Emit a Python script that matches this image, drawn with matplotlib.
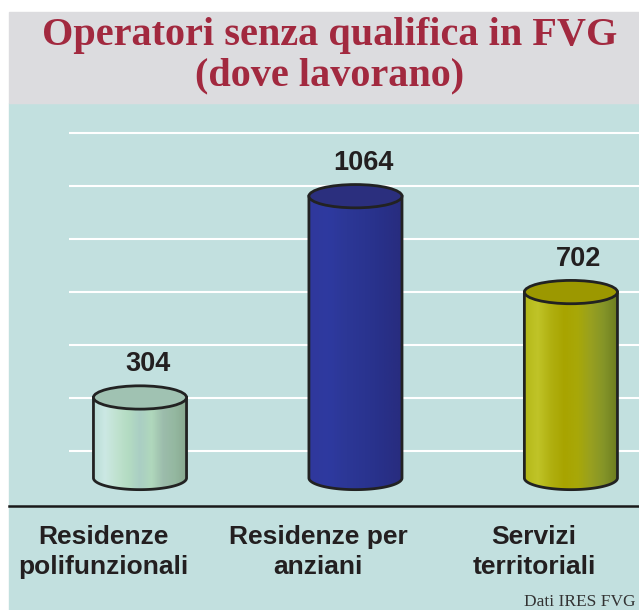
import numpy as np
import matplotlib.pyplot as plt
from matplotlib.patches import Ellipse, Polygon, Rectangle
from matplotlib.colors import LinearSegmentedColormap

categories = ["Residenze\npolifunzionali", "Residenze per\nanziani", "Servizi\nterritoriali"]
values = [304, 1064, 702]
grid_values = [200, 400, 600, 800, 1000, 1200, 1400]
title_lines = ["Operatori senza qualifica in FVG", "(dove lavorano)"]
source = "Dati IRES FVG"

# colours of the cylinders (left -> right) and of their tops
body_colors = [
    ['#b8dcd6', '#cce8e4', '#c0e2d0', '#b4dcc2', '#aacec4', '#b0d8bc', '#9cbcac', '#94b8a0', '#88a890'],
    ['#30389c', '#2e3aa0', '#2c3796', '#2a3490', '#283088', '#282c7e'],
    ['#b4b818', '#c0c428', '#b0b010', '#a8a400', '#a8a808', '#98a020', '#849428', '#6c7c20'],
]
top_colors = ['#a0c2b2', '#2b2f7e', '#9c9800']

TEAL = '#c2e0df'
GRAY = '#dcdcdf'
TITLE_C = '#a2293f'
TXT = '#231f20'

W, H = 639, 610
fig = plt.figure(figsize=(6.39, 6.10), dpi=100)

# backgrounds
fig.patches.append(Rectangle((9 / W, 0), 1 - 9 / W, 1 - 102.7 / H,
                             transform=fig.transFigure, color=TEAL, zorder=-5))
fig.patches.append(Rectangle((9 / W, 1 - 102.7 / H), 1 - 9 / W, (102.7 - 12) / H,
                             transform=fig.transFigure, color=GRAY, zorder=-5))

ax = fig.add_axes([9 / W, 1 - 506.3 / H, 1 - 9 / W, (506.3 - 102.7) / H])
ax.set_zorder(2)
ax.set_facecolor('none')
for s in ['top', 'left', 'right']:
    ax.spines[s].set_visible(False)
ax.spines['bottom'].set_color('#1a1a1a')
ax.spines['bottom'].set_linewidth(1.8)
ax.set_xticks([])
ax.set_yticks([])

xmin, xmax = -0.608, 2.316
ax.hlines(grid_values, xmin=-0.329, xmax=xmax, colors='white', lw=1.5, zorder=1)

base = 98
hw, ry = 0.216, 44


def cylinder(ax, xc, h, cols, top_col):
    top = base + h
    th = np.linspace(np.pi, 2 * np.pi, 80)
    pts = [[xc - hw, top]] + list(zip(xc + hw * np.cos(th), base + ry * np.sin(th))) + [[xc + hw, top]]
    body = Polygon(pts, closed=True, facecolor='none', edgecolor='#222222', lw=2, zorder=3)
    ax.add_patch(body)
    cmap = LinearSegmentedColormap.from_list('c', cols)
    grad = np.linspace(0, 1, 200)[None, :]
    im = ax.imshow(grad, extent=[xc - hw, xc + hw, base - ry, top], aspect='auto',
                   cmap=cmap, zorder=2, interpolation='bilinear')
    im.set_clip_path(body)
    ax.add_patch(Ellipse((xc, top), 2 * hw, 2 * ry, facecolor=top_col,
                         edgecolor='#222222', lw=2, zorder=4))


for i, v in enumerate(values):
    cylinder(ax, i, v, body_colors[i], top_colors[i])
    ax.text(i + 0.035, base + v + 125, str(v), ha='center', va='center',
            fontsize=19.5, fontweight='bold', family='Liberation Sans', color=TXT)
    ax.text(i - 0.172, -0.0463, categories[i], transform=ax.get_xaxis_transform(),
            ha='center', va='top', fontsize=19, fontweight='bold',
            family='Liberation Sans', color=TXT, linespacing=1.32)

ax.set_xlim(xmin, xmax)
ax.set_ylim(-8.9, 1515)

fig.text(330 / W, 1 - 45 / H, title_lines[0], ha='center', va='baseline',
         fontsize=29, fontweight='bold', family='Liberation Serif', color=TITLE_C)
fig.text(330 / W, 1 - 85 / H, title_lines[1], ha='center', va='baseline',
         fontsize=29, fontweight='bold', family='Liberation Serif', color=TITLE_C)
fig.text(636 / W, 1 - 606 / H, source, ha='right', va='baseline',
         fontsize=12.5, family='Liberation Serif', color='#333333')

fig.savefig('out.png', dpi=100)
